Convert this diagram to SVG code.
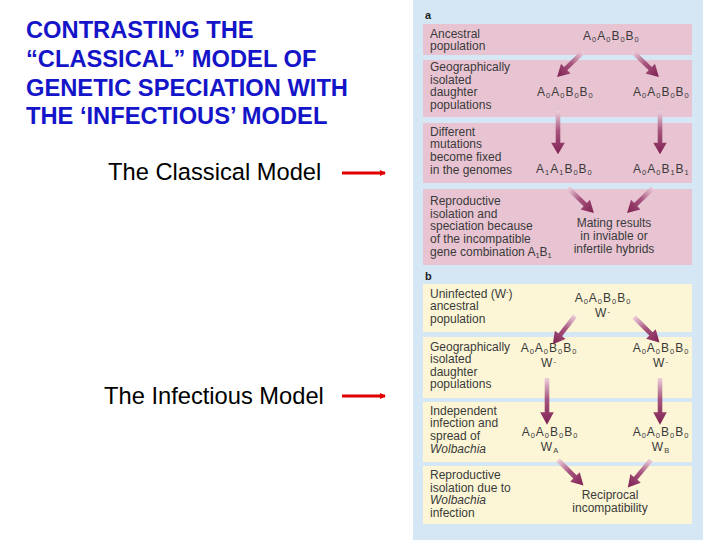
<svg xmlns="http://www.w3.org/2000/svg" xmlns:xlink="http://www.w3.org/1999/xlink" width="720" height="540" viewBox="0 0 720 540">
<style>
.title{font-family:"Liberation Sans",Arial,sans-serif;font-weight:bold;font-size:23.7px;fill:#1414c8}
.lbl{font-family:"Liberation Sans",Arial,sans-serif;font-size:23.7px;fill:#000}
.t{font-family:"Liberation Sans",Arial,sans-serif;font-size:12px;fill:#3a3a3a}
.g{font-family:"Liberation Sans",Arial,sans-serif;font-size:12px;fill:#3a3a3a;letter-spacing:1px}
.s{font-size:7.5px}
.pl{font-family:"Liberation Sans",Arial,sans-serif;font-size:11px;font-weight:bold;fill:#222}
.pink{fill:#e8c4d2}
.yel{fill:#fcf6d6}
.arr{fill:url(#grad)}
</style>
<defs>
<linearGradient id="grad" x1="0" y1="0" x2="0" y2="1">
<stop offset="0" stop-color="#edd0dc"/>
<stop offset="0.45" stop-color="#a8567f"/>
<stop offset="1" stop-color="#7e2052"/>
</linearGradient>
<path id="arrS" class="arr" d="M-2.3,0 L2.3,0 L2.3,24 L6.8,24 L0,36 L-6.8,24 L-2.3,24 Z"/>
<path id="arrL" class="arr" d="M-2.3,0 L2.3,0 L2.3,33 L6.8,33 L0,45 L-6.8,33 L-2.3,33 Z"/>
<marker id="red" markerWidth="6" markerHeight="6" refX="5" refY="3" orient="auto" markerUnits="userSpaceOnUse">
<path d="M0,0 L6,3 L0,6 Z" fill="#e00000"/>
</marker>
</defs>
<rect x="0" y="0" width="720" height="540" fill="#ffffff"/>

<g id="title">
<text class="title" x="26" y="38">CONTRASTING THE</text>
<text class="title" x="26" y="67">“CLASSICAL” MODEL OF</text>
<text class="title" x="26" y="96">GENETIC SPECIATION WITH</text>
<text class="title" x="26" y="124">THE ‘INFECTIOUS’ MODEL</text>
</g>
<g id="classical-label"><text class="lbl" x="108" y="180">The Classical Model</text></g>
<g id="infectious-label"><text class="lbl" x="104" y="404">The Infectious Model</text></g>

<rect id="panel" x="413" y="0" width="290" height="540" fill="#d5e7f5"/>
<text class="pl" x="425" y="19">a</text>
<text class="pl" x="425" y="280">b</text>

<g id="a-row1">
<rect class="pink" x="423" y="24" width="269" height="31"/>
<text class="t" x="430" y="38">Ancestral</text>
<text class="t" x="430" y="50">population</text>
<text class="g" x="583" y="40">A<tspan class="s" dy="2">0</tspan><tspan dy="-2">A</tspan><tspan class="s" dy="2">0</tspan><tspan dy="-2">B</tspan><tspan class="s" dy="2">0</tspan><tspan dy="-2">B</tspan><tspan class="s" dy="2">0</tspan></text>
</g>
<g id="a-row2">
<rect class="pink" x="423" y="60" width="269" height="57"/>
<text class="t" x="430" y="71">Geographically</text>
<text class="t" x="430" y="84">isolated</text>
<text class="t" x="430" y="96">daughter</text>
<text class="t" x="430" y="109">populations</text>
<text class="g" x="537" y="96">A<tspan class="s" dy="2">0</tspan><tspan dy="-2">A</tspan><tspan class="s" dy="2">0</tspan><tspan dy="-2">B</tspan><tspan class="s" dy="2">0</tspan><tspan dy="-2">B</tspan><tspan class="s" dy="2">0</tspan></text>
<text class="g" x="633" y="96">A<tspan class="s" dy="2">0</tspan><tspan dy="-2">A</tspan><tspan class="s" dy="2">0</tspan><tspan dy="-2">B</tspan><tspan class="s" dy="2">0</tspan><tspan dy="-2">B</tspan><tspan class="s" dy="2">0</tspan></text>
</g>
<g id="a-row3">
<rect class="pink" x="423" y="123" width="269" height="60"/>
<text class="t" x="430" y="136">Different</text>
<text class="t" x="430" y="148">mutations</text>
<text class="t" x="430" y="161">become fixed</text>
<text class="t" x="430" y="174">in the genomes</text>
<text class="g" x="536" y="173">A<tspan class="s" dy="2">1</tspan><tspan dy="-2">A</tspan><tspan class="s" dy="2">1</tspan><tspan dy="-2">B</tspan><tspan class="s" dy="2">0</tspan><tspan dy="-2">B</tspan><tspan class="s" dy="2">0</tspan></text>
<text class="g" x="633" y="173">A<tspan class="s" dy="2">0</tspan><tspan dy="-2">A</tspan><tspan class="s" dy="2">0</tspan><tspan dy="-2">B</tspan><tspan class="s" dy="2">1</tspan><tspan dy="-2">B</tspan><tspan class="s" dy="2">1</tspan></text>
</g>
<g id="a-row4">
<rect class="pink" x="423" y="189" width="269" height="76"/>
<text class="t" x="430" y="205">Reproductive</text>
<text class="t" x="430" y="218">isolation and</text>
<text class="t" x="430" y="230">speciation because</text>
<text class="t" x="430" y="243">of the incompatible</text>
<text class="t" x="430" y="256">gene combination A<tspan class="s" dy="2">1</tspan><tspan dy="-2">B</tspan><tspan class="s" dy="2">1</tspan></text>
<text class="t" x="614" y="227" text-anchor="middle">Mating results</text>
<text class="t" x="614" y="240" text-anchor="middle">in inviable or</text>
<text class="t" x="614" y="253" text-anchor="middle">infertile hybrids</text>
</g>

<g id="b-row1">
<rect class="yel" x="423" y="284" width="269" height="48"/>
<text class="t" x="430" y="298">Uninfected (W<tspan class="s" dy="-4">-</tspan><tspan dy="4">)</tspan></text>
<text class="t" x="430" y="310">ancestral</text>
<text class="t" x="430" y="323">population</text>
<text class="g" x="603" y="302" text-anchor="middle">A<tspan class="s" dy="2">0</tspan><tspan dy="-2">A</tspan><tspan class="s" dy="2">0</tspan><tspan dy="-2">B</tspan><tspan class="s" dy="2">0</tspan><tspan dy="-2">B</tspan><tspan class="s" dy="2">0</tspan></text>
<text class="g" x="603" y="317" text-anchor="middle">W<tspan class="s" dy="-3">-</tspan></text>
</g>
<g id="b-row2">
<rect class="yel" x="423" y="337" width="269" height="61"/>
<text class="t" x="430" y="351">Geographically</text>
<text class="t" x="430" y="363">isolated</text>
<text class="t" x="430" y="376">daughter</text>
<text class="t" x="430" y="388">populations</text>
<text class="g" x="549" y="352" text-anchor="middle">A<tspan class="s" dy="2">0</tspan><tspan dy="-2">A</tspan><tspan class="s" dy="2">0</tspan><tspan dy="-2">B</tspan><tspan class="s" dy="2">0</tspan><tspan dy="-2">B</tspan><tspan class="s" dy="2">0</tspan></text>
<text class="g" x="549" y="367" text-anchor="middle">W<tspan class="s" dy="-3">-</tspan></text>
<text class="g" x="661" y="352" text-anchor="middle">A<tspan class="s" dy="2">0</tspan><tspan dy="-2">A</tspan><tspan class="s" dy="2">0</tspan><tspan dy="-2">B</tspan><tspan class="s" dy="2">0</tspan><tspan dy="-2">B</tspan><tspan class="s" dy="2">0</tspan></text>
<text class="g" x="661" y="367" text-anchor="middle">W<tspan class="s" dy="-3">-</tspan></text>
</g>
<g id="b-row3">
<rect class="yel" x="423" y="402" width="269" height="60"/>
<text class="t" x="430" y="415">Independent</text>
<text class="t" x="430" y="427">infection and</text>
<text class="t" x="430" y="440">spread of</text>
<text class="t" x="430" y="453" font-style="italic">Wolbachia</text>
<text class="g" x="550" y="436" text-anchor="middle">A<tspan class="s" dy="2">0</tspan><tspan dy="-2">A</tspan><tspan class="s" dy="2">0</tspan><tspan dy="-2">B</tspan><tspan class="s" dy="2">0</tspan><tspan dy="-2">B</tspan><tspan class="s" dy="2">0</tspan></text>
<text class="g" x="550" y="451" text-anchor="middle">W<tspan class="s" dy="2">A</tspan></text>
<text class="g" x="661" y="436" text-anchor="middle">A<tspan class="s" dy="2">0</tspan><tspan dy="-2">A</tspan><tspan class="s" dy="2">0</tspan><tspan dy="-2">B</tspan><tspan class="s" dy="2">0</tspan><tspan dy="-2">B</tspan><tspan class="s" dy="2">0</tspan></text>
<text class="g" x="661" y="451" text-anchor="middle">W<tspan class="s" dy="2">B</tspan></text>
</g>
<g id="b-row4">
<rect class="yel" x="423" y="466" width="269" height="58"/>
<text class="t" x="430" y="479">Reproductive</text>
<text class="t" x="430" y="492">isolation due to</text>
<text class="t" x="430" y="504" font-style="italic">Wolbachia</text>
<text class="t" x="430" y="517">infection</text>
<text class="t" x="610" y="499" text-anchor="middle">Reciprocal</text>
<text class="t" x="610" y="512" text-anchor="middle">incompatibility</text>
</g>

<g id="connectors">
<line x1="342" y1="173" x2="385" y2="173" stroke="#e00000" stroke-width="3" marker-end="url(#red)"/>
<line x1="342" y1="396" x2="385" y2="396" stroke="#e00000" stroke-width="3" marker-end="url(#red)"/>
<use xlink:href="#arrS" transform="translate(583,52) rotate(46)"/>
<use xlink:href="#arrS" transform="translate(633,52) rotate(-46)"/>
<use xlink:href="#arrL" transform="translate(558,111) scale(1,0.96)"/>
<use xlink:href="#arrL" transform="translate(660,111) scale(1,0.96)"/>
<use xlink:href="#arrS" transform="translate(568,188) rotate(-46)"/>
<use xlink:href="#arrS" transform="translate(653,188) rotate(46)"/>
<use xlink:href="#arrS" transform="translate(575,316) rotate(38)"/>
<use xlink:href="#arrS" transform="translate(634,317) rotate(-45)"/>
<use xlink:href="#arrL" transform="translate(547,378) scale(1,1.04)"/>
<use xlink:href="#arrL" transform="translate(660,378) scale(1,1.04)"/>
<use xlink:href="#arrS" transform="translate(558,460) rotate(-45)"/>
<use xlink:href="#arrS" transform="translate(651,460) rotate(40)"/>
</g>
</svg>
